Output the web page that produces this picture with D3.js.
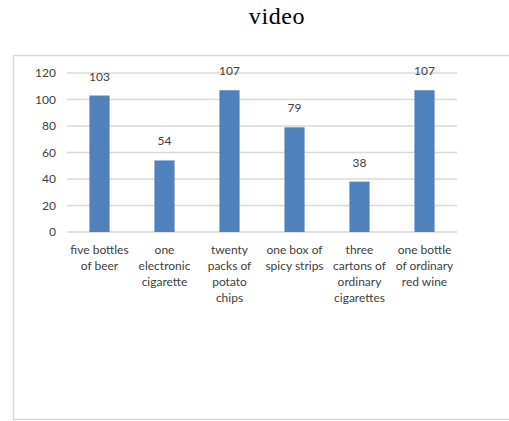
<!DOCTYPE html>
<html>
<head>
<meta charset="utf-8">
<script src="https://cdn.jsdelivr.net/npm/d3@7/dist/d3.min.js"></script>
<style>
  html, body { margin: 0; padding: 0; background: #fff; }
  svg { display: block; }
</style>
</head>
<body>
<svg id="chart" width="509" height="421"></svg>
<script>
// Item categories, with each label split into its wrapped lines
const categories = [
  ["five bottles", "of beer"],
  ["one", "electronic", "cigarette"],
  ["twenty", "packs of", "potato", "chips"],
  ["one box of", "spicy strips"],
  ["three", "cartons of", "ordinary", "cigarettes"],
  ["one bottle", "of ordinary", "red wine"]
];
const values = [103, 54, 107, 79, 38, 107];
const yTicks = [0, 20, 40, 60, 80, 100, 120];
const title = "video";

const svg = d3.select("#chart");
const labelFont = "Lato, 'Open Sans', sans-serif";
const textColor = "#404040";

// Outer chart frame (runs past the right edge)
svg.append("rect")
  .attr("x", 13.5).attr("y", 55.5)
  .attr("width", 520).attr("height", 364)
  .attr("fill", "none")
  .attr("stroke", "#d9d9d9")
  .attr("stroke-width", 1.5);

// Title
svg.append("text")
  .attr("x", 277).attr("y", 24)
  .attr("text-anchor", "middle")
  .attr("font-family", "'Liberation Serif', 'Times New Roman', serif")
  .attr("font-size", 24)
  .attr("letter-spacing", 0.6)
  .attr("fill", "#000")
  .text(title);

const x = d3.scaleBand()
  .domain(d3.range(categories.length))
  .range([67, 457])
  .paddingInner(0.69)
  .paddingOuter(0.345);

const y = d3.scaleLinear()
  .domain([0, 120])
  .range([232, 73]);

// Horizontal gridlines
svg.append("g")
  .selectAll("line")
  .data(yTicks)
  .join("line")
  .attr("x1", 67).attr("x2", 457)
  .attr("y1", d => y(d)).attr("y2", d => y(d))
  .attr("stroke", "#d9d9d9")
  .attr("stroke-width", 1.3);

// Y axis labels
const yAxis = d3.axisLeft(y).tickValues(yTicks).tickSize(0).tickPadding(0);
svg.append("g")
  .attr("transform", "translate(56,0)")
  .call(yAxis)
  .call(g => g.select(".domain").remove())
  .call(g => g.selectAll("text")
    .attr("font-family", labelFont)
    .attr("font-size", 12)
    .attr("fill", textColor));

// Bars
svg.append("g")
  .selectAll("rect")
  .data(values)
  .join("rect")
  .attr("x", (d, i) => x(i))
  .attr("width", x.bandwidth())
  .attr("y", d => y(d))
  .attr("height", d => y(0) - y(d))
  .attr("fill", "#4f81bd");

// Value labels above bars
svg.append("g")
  .selectAll("text")
  .data(values)
  .join("text")
  .attr("x", (d, i) => x(i) + x.bandwidth() / 2)
  .attr("y", d => y(d) - 15)
  .attr("text-anchor", "middle")
  .attr("font-family", labelFont)
  .attr("font-size", 12)
  .attr("fill", textColor)
  .text(d => d);

// Category labels, wrapped
const cat = svg.append("g")
  .selectAll("text")
  .data(categories)
  .join("text")
  .attr("text-anchor", "middle")
  .attr("font-family", labelFont)
  .attr("font-size", 12)
  .attr("fill", textColor);
cat.selectAll("tspan")
  .data((d, i) => d.map(line => ({ line, i })))
  .join("tspan")
  .attr("x", d => x(d.i) + x.bandwidth() / 2)
  .attr("y", (d, j) => 254 + j * 16)
  .text(d => d.line);
</script>
</body>
</html>
